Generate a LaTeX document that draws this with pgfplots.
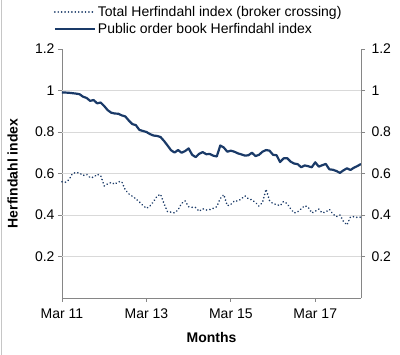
\documentclass[border=0pt]{standalone}
\usepackage{pgfplots}
\pgfplotsset{compat=1.18}
\usepackage{pgfplotstable}
\usepackage{fontspec}
\setmainfont{Liberation Sans}
\definecolor{navy}{RGB}{26,58,104}
\definecolor{axgray}{RGB}{134,134,134}
\definecolor{gridgray}{RGB}{217,217,217}

\pgfplotstableread{
m solid dotted
0 0.990 0.560
1 0.990 0.558
2 0.989 0.570
3 0.987 0.600
4 0.985 0.605
5 0.982 0.602
6 0.970 0.590
7 0.964 0.596
8 0.950 0.580
9 0.954 0.582
10 0.938 0.596
11 0.942 0.590
12 0.925 0.540
13 0.905 0.550
14 0.893 0.557
15 0.889 0.548
16 0.888 0.560
17 0.880 0.560
18 0.875 0.520
19 0.855 0.502
20 0.838 0.490
21 0.833 0.478
22 0.810 0.463
23 0.805 0.447
24 0.800 0.432
25 0.790 0.443
26 0.783 0.464
27 0.781 0.490
28 0.776 0.500
29 0.757 0.455
30 0.735 0.416
31 0.712 0.414
32 0.701 0.410
33 0.713 0.425
34 0.700 0.456
35 0.708 0.468
36 0.721 0.440
37 0.690 0.437
38 0.679 0.436
39 0.695 0.418
40 0.703 0.430
41 0.693 0.424
42 0.694 0.426
43 0.686 0.432
44 0.682 0.440
45 0.735 0.480
46 0.725 0.498
47 0.705 0.445
48 0.710 0.450
49 0.705 0.468
50 0.697 0.467
51 0.692 0.478
52 0.686 0.492
53 0.688 0.478
54 0.700 0.473
55 0.684 0.460
56 0.690 0.443
57 0.705 0.460
58 0.713 0.524
59 0.710 0.470
60 0.690 0.455
61 0.688 0.450
62 0.655 0.445
63 0.673 0.465
64 0.674 0.455
65 0.657 0.430
66 0.648 0.410
67 0.645 0.415
68 0.630 0.430
69 0.639 0.445
70 0.635 0.437
71 0.630 0.410
72 0.654 0.418
73 0.633 0.428
74 0.640 0.410
75 0.646 0.415
76 0.620 0.427
77 0.618 0.405
78 0.612 0.392
79 0.603 0.400
80 0.615 0.370
81 0.625 0.352
82 0.617 0.390
83 0.628 0.392
84 0.636 0.388
85 0.646 0.390
}\datatable

\begin{document}
\begin{tikzpicture}
\path[use as bounding box] (0pt,0pt) rectangle (400pt,355pt);
\draw[gray!45, line width=0.8pt] (1pt,0pt) -- (1pt,355pt);
\begin{axis}[
  at={(62pt,57pt)}, anchor=south west,
  scale only axis, width=299pt, height=249pt,
  xmin=0, xmax=85, ymin=0, ymax=1.2,
  axis x line*=bottom, axis y line*=left,
  axis line style={axgray, line width=0.9pt},
  tick align=outside, major tick length=4pt,
  tick style={axgray, line width=0.9pt},
  xtick={0,24,48,72},
  xticklabels={Mar 11, Mar 13, Mar 15, Mar 17},
  ytick={0.2,0.4,0.6,0.8,1,1.2},
  yticklabels={0.2,0.4,0.6,0.8,1,1.2},
  extra y ticks={0.2,0.4,0.6,0.8,1},
  extra y tick labels={},
  extra y tick style={grid=major, major tick length=0pt},
  grid style={gridgray, line width=0.9pt},
  /pgf/number format/assume math mode=true,
  tick label style={font=\fontsize{14}{16}\selectfont, text=black},
  xticklabel style={yshift=-3.5pt},
  xlabel={\textbf{Months}},
  ylabel={\textbf{Herfindahl index}},
  label style={font=\fontsize{14}{16}\selectfont},
  xlabel style={at={(axis description cs:0.5,-0.158)}, anchor=center},
  ylabel style={at={(axis description cs:-0.165,0.5)}, anchor=center},
  legend style={at={(axis description cs:-0.035,1.18)}, anchor=north west,
    draw=none, fill=none, font=\fontsize{14}{16}\selectfont,
    row sep=1.5pt, cells={anchor=west}, inner xsep=2pt, inner ysep=0pt},
  legend image code/.code={\draw[#1] (0pt,0pt) -- (40pt,0pt);},
  clip=false,
]
\addplot[navy, line width=1.8pt, line cap=round, dash pattern=on 0.01pt off 3.4pt] table[x=m, y=dotted] {\datatable};
\addlegendentry{Total Herfindahl index (broker crossing)}
\addplot[navy, line width=2.2pt, line join=round] table[x=m, y=solid] {\datatable};
\addlegendentry{Public order book Herfindahl index}
\end{axis}
\begin{axis}[
  at={(62pt,57pt)}, anchor=south west,
  scale only axis, width=299pt, height=249pt,
  xmin=0, xmax=85, ymin=0, ymax=1.2,
  axis x line=none, axis y line*=right,
  axis line style={axgray, line width=0.9pt},
  tick align=outside, major tick length=4pt,
  tick style={axgray, line width=0.9pt},
  ytick={0.2,0.4,0.6,0.8,1,1.2},
  yticklabels={0.2,0.4,0.6,0.8,1,1.2},
  /pgf/number format/assume math mode=true,
  tick label style={font=\fontsize{14}{16}\selectfont, text=black},
  yticklabel style={xshift=3pt},
]
\end{axis}
\end{tikzpicture}
\end{document}
